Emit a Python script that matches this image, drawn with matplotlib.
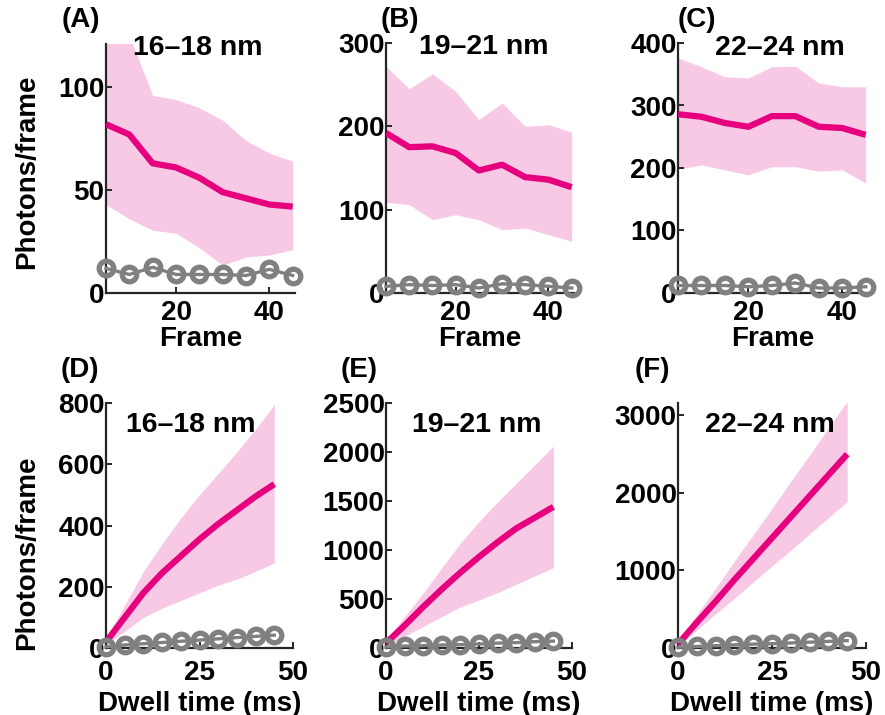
import matplotlib
matplotlib.use("Agg")
import matplotlib.pyplot as plt

plt.rcParams['font.family'] = ['Liberation Sans', 'DejaVu Sans']
plt.rcParams['font.weight'] = 'bold'

# data
frames = [5, 10, 15, 20, 25, 30, 35, 40, 45]
dwell = [0, 5, 10, 15, 20, 25, 30, 35, 40, 45]

mean_a = [82, 77, 63, 61, 56, 49, 46, 43, 42]
hi_a = [125, 125, 96, 94, 90, 84, 74, 68, 64]
lo_a = [43, 36, 30.5, 29, 22, 13.5, 17.5, 18.5, 21]
bg_a = [12, 9, 12.5, 9, 9, 9, 8.5, 11.5, 8.5]

mean_b = [192, 175, 176, 168, 147, 154, 139, 136, 127]
hi_b = [272, 245, 263, 242, 208, 228, 200, 202, 193]
lo_b = [109, 106, 88, 94, 88, 76, 78, 70, 62]
bg_b = [8, 10, 9, 10, 6, 11, 10, 8, 6]

mean_c = [286, 282, 272, 266, 283, 283, 266, 264, 253]
hi_c = [376, 362, 346, 344, 362, 363, 336, 330, 330]
lo_c = [198, 205, 197, 189, 202, 202, 195, 197, 176]
bg_c = [12, 12, 12, 10, 12, 16, 8, 8, 10]

mean_d = [20, 100, 180, 245, 300, 355, 405, 450, 495, 535]
hi_d = [30, 140, 250, 340, 425, 500, 570, 640, 715, 795]
lo_d = [10, 55, 100, 130, 155, 180, 205, 225, 250, 278]
bg_d = [4, 10, 14, 18, 22, 26, 30, 34, 38, 42]

mean_e = [50, 230, 420, 600, 770, 930, 1080, 1220, 1330, 1440]
hi_e = [80, 320, 560, 820, 1070, 1290, 1490, 1680, 1870, 2060]
lo_e = [20, 120, 220, 320, 420, 490, 565, 650, 735, 820]
bg_e = [10, 20, 25, 30, 35, 40, 50, 55, 65, 70]

mean_f = [50, 330, 600, 880, 1150, 1420, 1690, 1960, 2230, 2500]
hi_f = [80, 430, 770, 1120, 1460, 1800, 2150, 2490, 2840, 3180]
lo_f = [20, 230, 440, 640, 850, 1060, 1260, 1470, 1680, 1890]
bg_f = [10, 20, 30, 40, 50, 55, 65, 75, 85, 95]

titles = ['16\u201318 nm', '19\u201321 nm', '22\u201324 nm']
letters = ['(A)', '(B)', '(C)', '(D)', '(E)', '(F)']

PINK = '#e6007e'
BAND = '#f8c9e4'
GRAY = '#808080'
SPINE = '#262626'
FS = 20

W, H = 885, 715
fig = plt.figure(figsize=(W / 100, H / 100), dpi=100)


def add_ax(left, top, right, bottom):
    return fig.add_axes([left / W, 1 - bottom / H, (right - left) / W, (bottom - top) / H])


def style(ax, xpad):
    for s in ['top', 'right']:
        ax.spines[s].set_visible(False)
    for s in ['left', 'bottom']:
        ax.spines[s].set_color(SPINE)
        ax.spines[s].set_linewidth(1.6)
    ax.tick_params(direction='in', length=4, width=1.4, color=SPINE,
                   labelsize=FS, pad=1)
    ax.tick_params(axis='x', pad=xpad)
    for lab in ax.get_xticklabels() + ax.get_yticklabels():
        lab.set_fontweight('bold')


def panel(ax, x, mean, hi, lo, bg):
    ax.fill_between(x, lo, hi, color=BAND, lw=0, zorder=1)
    ax.plot(x, mean, color=PINK, lw=4.5, zorder=3, solid_capstyle='butt')
    ax.plot(x, bg, color=GRAY, lw=2.4, marker='o', ms=10.5, mfc='none',
            mec=GRAY, mew=3.8, zorder=4, clip_on=False)


# top row: photons per frame vs frame
top = [(106, 44, 295, 293, mean_a, hi_a, lo_a, bg_a, 121, [0, 50, 100]),
       (386, 43, 574, 293, mean_b, hi_b, lo_b, bg_b, 300, [0, 100, 200, 300]),
       (678, 43, 868, 293, mean_c, hi_c, lo_c, bg_c, 400, [0, 100, 200, 300, 400])]
for l, t, r, b, m, hi, lo, bg, ymax, yt in top:
    ax = add_ax(l, t, r, b)
    panel(ax, frames, m, hi, lo, bg)
    ax.set_xlim(5, 45.5)
    ax.set_ylim(0, ymax)
    ax.set_xticks([20, 40])
    ax.set_yticks(yt)
    style(ax, 5)
    ax.set_xlabel('Frame', fontsize=FS, fontweight='bold', labelpad=0)

# bottom row: photons per frame vs dwell time
bot = [(106, 403, 293, 648, mean_d, hi_d, lo_d, bg_d, 800, [0, 200, 400, 600, 800]),
       (386, 403, 572, 648, mean_e, hi_e, lo_e, bg_e, 2500, [0, 500, 1000, 1500, 2000, 2500]),
       (678, 403, 866, 648, mean_f, hi_f, lo_f, bg_f, 3160, [0, 1000, 2000, 3000])]
for l, t, r, b, m, hi, lo, bg, ymax, yt in bot:
    ax = add_ax(l, t, r, b)
    panel(ax, dwell, m, hi, lo, bg)
    ax.set_xlim(0, 50)
    ax.set_ylim(0, ymax)
    ax.set_xticks([0, 25, 50])
    ax.set_yticks(yt)
    style(ax, 9)
    ax.set_xlabel('Dwell time (ms)', fontsize=FS, fontweight='bold', labelpad=3)

# y axis labels
for y in [172, 553]:
    fig.text(27 / W, 1 - y / H, 'Photons/frame', fontsize=FS, fontweight='bold',
             rotation=90, ha='center', va='center')

# panel titles
for (x, y), t in zip([(198, 48), (484, 47), (780, 48), (191, 425), (477, 425), (770, 425)],
                     titles + titles):
    fig.text(x / W, 1 - y / H, t, fontsize=20.5, fontweight='bold',
             ha='center', va='center')

# panel letters
for (x, y), t in zip([(81, 20), (400, 20), (697, 20), (80, 370), (359, 370), (652, 370)],
                     letters):
    fig.text(x / W, 1 - y / H, t, fontsize=20, fontweight='bold',
             ha='center', va='center')

fig.savefig('out.png', dpi=100)
